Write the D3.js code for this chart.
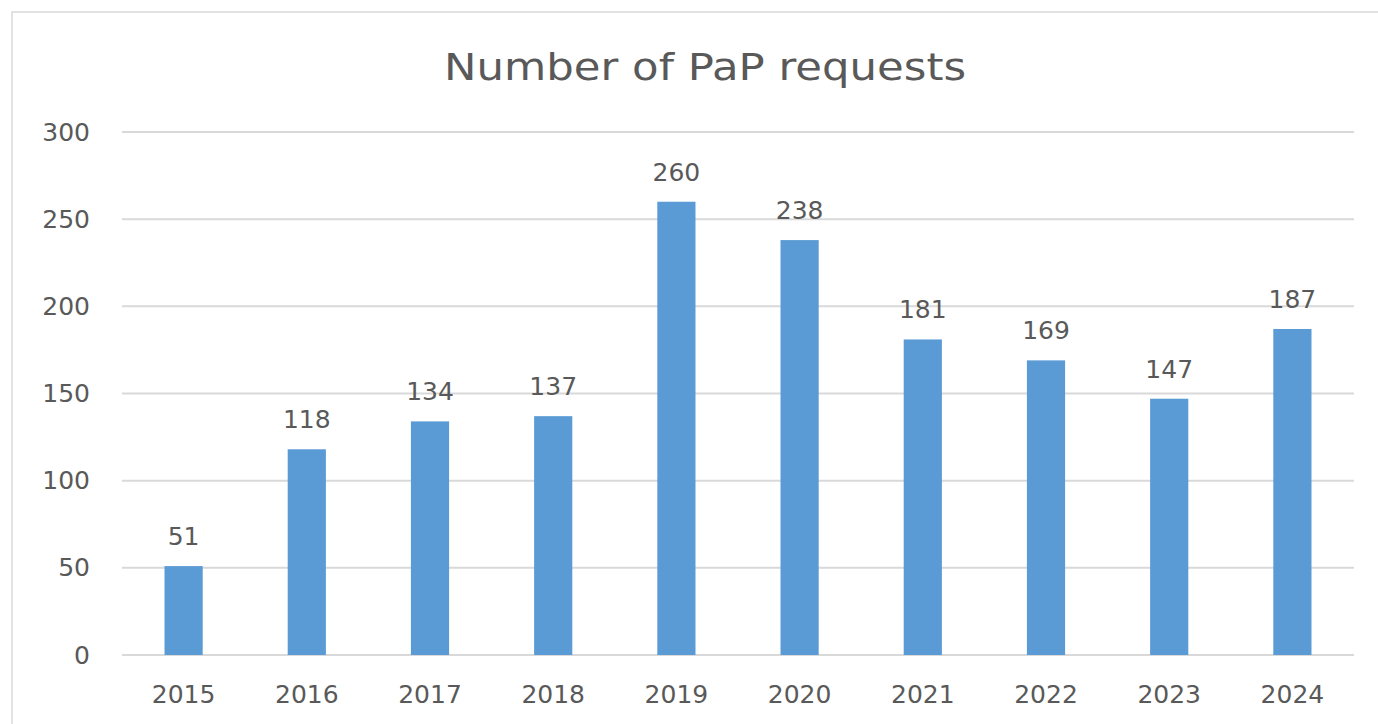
<!DOCTYPE html>
<html>
<head>
<meta charset="utf-8">
<script src="https://cdn.jsdelivr.net/npm/d3@7"></script>
<style>
  body { margin: 0; background: #fff; }
  text { font-family: "DejaVu Sans", "Liberation Sans", sans-serif; fill: #595959; }
</style>
</head>
<body>
<div id="chart"></div>
<script>
// Data
const years = ["2015", "2016", "2017", "2018", "2019", "2020", "2021", "2022", "2023", "2024"];
const requests = [51, 118, 134, 137, 260, 238, 181, 169, 147, 187];
const yTicks = [0, 50, 100, 150, 200, 250, 300];

const width = 1378;
const height = 724;
const margin = {top: 132, left: 122, right: 24, bottom: 69};
const innerWidth = width - margin.left - margin.right;
const innerHeight = height - margin.top - margin.bottom;

const svg = d3.select("#chart")
  .append("svg")
    .attr("width", width)
    .attr("height", height);

// Chart area border (only top and left edges are visible)
svg.append("path")
  .attr("d", `M12,${height} L12,12 L${width},12`)
  .attr("fill", "none")
  .attr("stroke", "#d9d9d9")
  .attr("stroke-width", 1.5);

// Title
svg.append("text")
  .attr("x", 705)
  .attr("y", 80)
  .attr("text-anchor", "middle")
  .attr("textLength", 522)
  .attr("lengthAdjust", "spacingAndGlyphs")
  .style("font-size", "38px")
  .text("Number of PaP requests");

const innerChart = svg.append("g")
  .attr("transform", `translate(${margin.left}, ${margin.top})`);

// Scales
const xScale = d3.scaleBand()
  .domain(years)
  .range([0, innerWidth])
  .paddingInner(0.69)
  .paddingOuter(0.345);

const yScale = d3.scaleLinear()
  .domain([0, 300])
  .range([innerHeight, 0]);

// Gridlines
innerChart.selectAll(".grid")
  .data(yTicks)
  .join("line")
    .attr("class", "grid")
    .attr("x1", 0)
    .attr("x2", innerWidth)
    .attr("y1", d => yScale(d))
    .attr("y2", d => yScale(d))
    .attr("stroke", "#d9d9d9")
    .attr("stroke-width", 2);

// Y axis labels
const leftAxis = d3.axisLeft(yScale).tickValues(yTicks).tickSize(0).tickPadding(32);
innerChart.append("g")
  .attr("class", "axis-y")
  .call(leftAxis)
  .call(g => g.select(".domain").remove())
  .selectAll("text")
    .style("font-size", "25px")
    .style("font-family", "DejaVu Sans")
    .attr("fill", "#595959");

// X axis labels
const bottomAxis = d3.axisBottom(xScale).tickSize(0).tickPadding(30);
innerChart.append("g")
  .attr("class", "axis-x")
  .attr("transform", `translate(0, ${innerHeight})`)
  .call(bottomAxis)
  .call(g => g.select(".domain").remove())
  .selectAll("text")
    .style("font-size", "25px")
    .style("font-family", "DejaVu Sans")
    .attr("fill", "#595959");

// Bars
innerChart.selectAll(".bar")
  .data(requests)
  .join("rect")
    .attr("class", "bar")
    .attr("x", (d, i) => xScale(years[i]))
    .attr("y", d => yScale(d))
    .attr("width", xScale.bandwidth())
    .attr("height", d => innerHeight - yScale(d))
    .attr("fill", "#5b9bd5");

// Data labels
innerChart.selectAll(".label")
  .data(requests)
  .join("text")
    .attr("class", "label")
    .attr("x", (d, i) => xScale(years[i]) + xScale.bandwidth() / 2)
    .attr("y", d => yScale(d) - 21)
    .attr("text-anchor", "middle")
    .style("font-size", "25px")
    .text(d => d);
</script>
</body>
</html>
